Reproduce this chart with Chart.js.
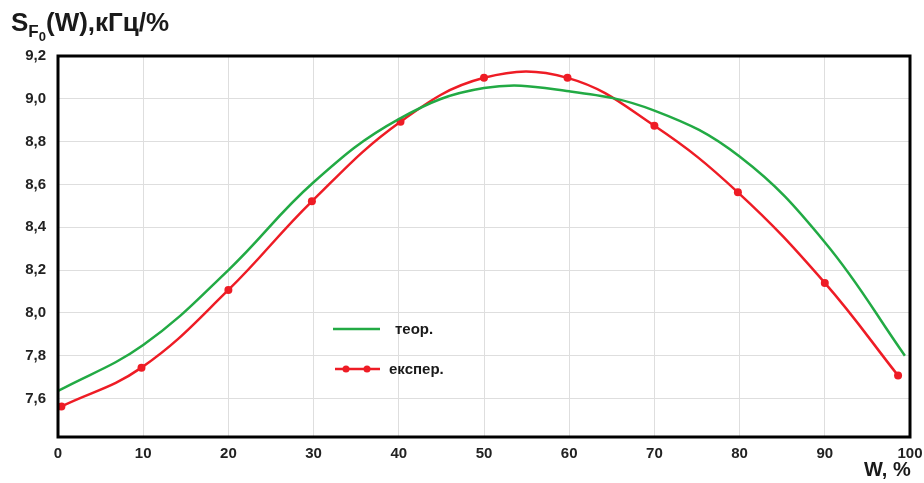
<!DOCTYPE html>
<html>
<head>
<meta charset="utf-8">
<script src="https://cdn.jsdelivr.net/npm/chart.js@4"></script>
<style>
  body { margin: 0; background: #fff; }
  #wrap { position: relative; width: 924px; height: 483px; }
  .lbl { position: absolute; font-family: "Liberation Sans", Arial, sans-serif; font-weight: bold; color: #1a1a1a; white-space: nowrap; }
  sub { font-size: 17px; }
  sub sub { font-size: 13px; }
</style>
</head>
<body>
<div id="wrap">
  <canvas id="myChart" width="924" height="483"></canvas>
  <div class="lbl" style="left:11px; top:7px; font-size:26px;">S<sub>F<sub>0</sub></sub>(W),кГц/%</div>
  <div class="lbl" style="left:864px; top:458px; font-size:20px;">W, %</div>
</div>
<script>
// data
const xTicks = [0, 10, 20, 30, 40, 50, 60, 70, 80, 90, 100];
const yTicks = [7.6, 7.8, 8.0, 8.2, 8.4, 8.6, 8.8, 9.0, 9.2];

const theoryW = [0, 10, 20, 30, 40, 50, 60, 70, 80, 90, 99.4];
const theoryS = [7.635, 7.85, 8.2, 8.61, 8.905, 9.05, 9.035, 8.945, 8.73, 8.33, 7.8];

const expW = [0.4, 9.8, 20, 29.8, 40.2, 50, 59.8, 70, 79.8, 90, 98.6];
const expS = [7.563, 7.744, 8.107, 8.521, 8.893, 9.098, 9.098, 8.874, 8.563, 8.14, 7.707];

const legendLabels = ["теор.", "експер."];

const green = "#22aa44";
const red = "#ee1c25";

const toPts = (xs, ys) => xs.map((x, i) => ({ x: x, y: ys[i] }));

const frame = {
  id: "frame",
  afterDraw(chart) {
    const { ctx, chartArea: a } = chart;
    ctx.save();
    ctx.strokeStyle = "#000";
    ctx.lineWidth = 3;
    ctx.strokeRect(a.left, a.top, a.right - a.left, a.bottom - a.top);

    // legend inside the plot
    ctx.font = "bold 15px 'Liberation Sans', Arial, sans-serif";
    ctx.fillStyle = "#1a1a1a";
    ctx.textBaseline = "middle";
    ctx.lineWidth = 2.5;
    ctx.strokeStyle = green;
    ctx.beginPath(); ctx.moveTo(333, 329); ctx.lineTo(380, 329); ctx.stroke();
    ctx.fillText(legendLabels[0], 395, 330);
    ctx.strokeStyle = red;
    ctx.beginPath(); ctx.moveTo(335, 369); ctx.lineTo(380, 369); ctx.stroke();
    ctx.fillStyle = red;
    [346, 367].forEach(px => { ctx.beginPath(); ctx.arc(px, 369, 3.5, 0, Math.PI * 2); ctx.fill(); });
    ctx.fillStyle = "#1a1a1a";
    ctx.fillText(legendLabels[1], 389, 370);
    ctx.restore();
  }
};

const comma = v => v.toFixed(1).replace(".", ",");
const tickFont = { family: "'Liberation Sans', Arial, sans-serif", size: 15, weight: "bold" };

new Chart(document.getElementById("myChart"), {
  type: "line",
  data: {
    datasets: [
      {
        label: legendLabels[0],
        data: toPts(theoryW, theoryS),
        borderColor: green,
        borderWidth: 2.5,
        pointRadius: 0,
        tension: 0.4,
      },
      {
        label: legendLabels[1],
        data: toPts(expW, expS),
        borderColor: red,
        backgroundColor: red,
        borderWidth: 2.5,
        pointRadius: 4,
        pointBorderWidth: 0,
        tension: 0.4,
      }
    ]
  },
  options: {
    responsive: false,
    animation: false,
    layout: { padding: { top: 56, right: 14, left: 0, bottom: 0 } },
    plugins: { legend: { display: false }, tooltip: { enabled: false } },
    scales: {
      x: {
        type: "linear",
        min: 0, max: 100,
        afterBuildTicks: s => { s.ticks = xTicks.map(v => ({ value: v })); },
        afterFit: s => { s.height = 46; s.paddingRight = 0; s.paddingLeft = 0; },
        grid: { color: "#dedede", drawTicks: false },
        border: { display: false },
        ticks: { color: "#222", font: tickFont, padding: 8, maxRotation: 0 }
      },
      y: {
        min: 7.42, max: 9.2,
        afterBuildTicks: s => { s.ticks = yTicks.map(v => ({ value: v })); },
        afterFit: s => { s.width = 58; },
        grid: { color: "#dedede", drawTicks: false },
        border: { display: false },
        ticks: { color: "#222", font: tickFont, padding: 12, callback: v => comma(v) }
      }
    }
  },
  plugins: [frame]
});
</script>
</body>
</html>
